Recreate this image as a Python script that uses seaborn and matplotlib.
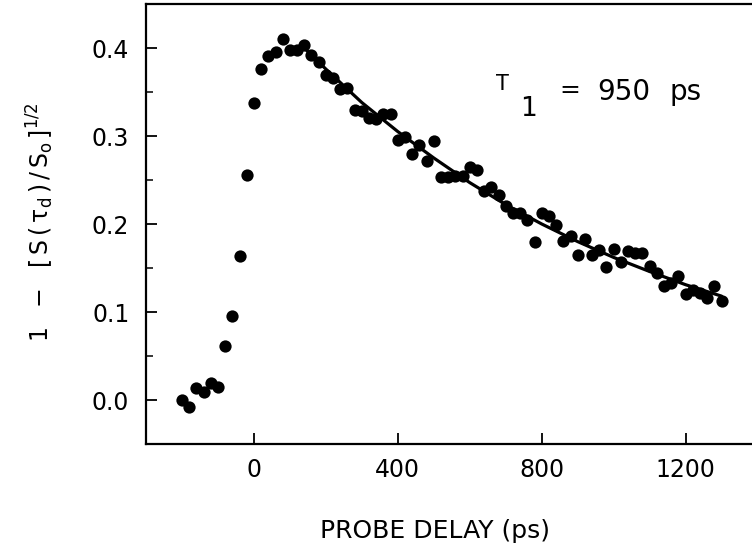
import matplotlib
matplotlib.use("Agg")
import matplotlib.pyplot as plt
import seaborn as sns
from matplotlib.ticker import MultipleLocator

# ---------------------------------------------------------------------------
# Data
# ---------------------------------------------------------------------------

delay_ps = [
    -200, -180, -160, -140, -120, -100, -80, -60, -40, -20,
    0, 20, 40, 60, 80, 100, 120, 140, 160, 180,
    200, 220, 240, 260, 280, 300, 320, 340, 360, 380,
    400, 420, 440, 460, 480, 500, 520, 540, 560, 580,
    600, 620, 640, 660, 680, 700, 720, 740, 760, 780,
    800, 820, 840, 860, 880, 900, 920, 940, 960, 980,
    1000, 1020, 1040, 1060, 1080, 1100, 1120, 1140, 1160, 1180,
    1200, 1220, 1240, 1260, 1280, 1300,
]
signal = [
    0.000, -0.008, 0.014, 0.009, 0.019, 0.015, 0.061, 0.095, 0.164, 0.256,
    0.338, 0.376, 0.391, 0.396, 0.410, 0.398, 0.398, 0.403, 0.392, 0.384,
    0.369, 0.366, 0.353, 0.355, 0.330, 0.328, 0.321, 0.319, 0.325, 0.325,
    0.295, 0.299, 0.280, 0.290, 0.272, 0.294, 0.253, 0.253, 0.254, 0.255,
    0.265, 0.261, 0.237, 0.242, 0.233, 0.220, 0.213, 0.213, 0.205, 0.180,
    0.212, 0.209, 0.199, 0.181, 0.186, 0.165, 0.183, 0.165, 0.171, 0.151,
    0.172, 0.157, 0.169, 0.167, 0.167, 0.152, 0.144, 0.129, 0.133, 0.141,
    0.121, 0.125, 0.122, 0.116, 0.130, 0.112,
]

# fitted decay curve (T1 = 950 ps)
fit_delay_ps = [140, 200, 300, 400, 500, 600, 700, 800, 900, 1000, 1100, 1200, 1300]
fit_signal = [0.400, 0.376, 0.338, 0.305, 0.275, 0.247, 0.222, 0.200, 0.180,
              0.162, 0.146, 0.131, 0.118]

x_ticks = [0, 400, 800, 1200]
y_ticks = [0.0, 0.1, 0.2, 0.3, 0.4]
y_tick_labels = ["0.0", "0.1", "0.2", "0.3", "0.4"]

# ---------------------------------------------------------------------------
# Figure
# ---------------------------------------------------------------------------

W, H = 752, 548

sns.set_style("ticks")
plt.rcParams["font.family"] = ["DejaVu Sans"]
plt.rcParams["mathtext.fontset"] = "dejavusans"
for key in ["text.color", "axes.labelcolor", "xtick.color", "ytick.color", "axes.edgecolor"]:
    plt.rcParams[key] = "black"

fig = plt.figure(figsize=(W / 100, H / 100), dpi=100)
# right spine sits just past the figure edge, as in the scanned original
ax = fig.add_axes([146 / W, 104 / H, 611.6 / W, 440 / H])

sns.lineplot(x=fit_delay_ps, y=fit_signal, color="black", linewidth=2.3, ax=ax, zorder=2)
sns.scatterplot(x=delay_ps, y=signal, color="black", s=78, linewidth=0, ax=ax, zorder=3)

ax.set_xlim(-300, 1400)
ax.set_ylim(-0.05, 0.45)
ax.set_xticks(x_ticks)
ax.set_yticks(y_ticks)
ax.set_yticklabels(y_tick_labels)
ax.yaxis.set_minor_locator(MultipleLocator(0.05))

ax.tick_params(axis="both", which="major", direction="in", length=8, width=1.3,
               labelsize=17)
ax.tick_params(axis="y", which="minor", direction="in", length=5, width=1.1)
ax.tick_params(axis="y", pad=12, right=False)
ax.tick_params(axis="x", pad=10, top=False)

for side in ["left", "bottom", "top", "right"]:
    ax.spines[side].set_visible(True)
    ax.spines[side].set_linewidth(1.6)

ax.set_xlabel("PROBE DELAY (ps)", fontsize=18, va="center")
ax.xaxis.set_label_coords((435 - 146) / 611.6, (444 - 531) / 440)

ax.set_ylabel(r"$\mathregular{1\ \ -\ \ [\,S\,(\,\tau_d\,)\,/\,S_o\,]^{1/2}}$",
              fontsize=17, va="center")
ax.yaxis.set_label_coords((40 - 146) / 611.6, (444 - 222) / 440)

# T1 annotation
fig.text(496 / W, 1 - 90 / H, "T", fontsize=15, va="baseline")
fig.text(520 / W, 1 - 116 / H, "1", fontsize=19, va="baseline")
fig.text(559 / W, 1 - 97 / H, "=", fontsize=18, va="baseline")
fig.text(597 / W, 1 - 100 / H, "950", fontsize=20, va="baseline")
fig.text(669 / W, 1 - 100 / H, "ps", fontsize=20, va="baseline")

fig.savefig("out.png", dpi=100)
